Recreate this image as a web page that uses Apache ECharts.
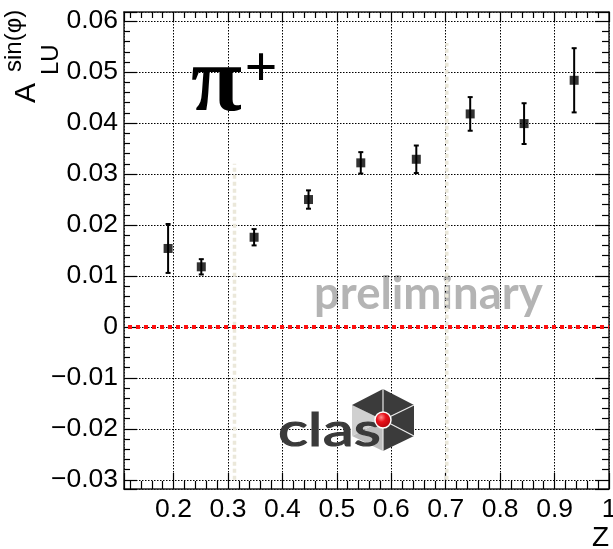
<!DOCTYPE html>
<html>
<head>
<meta charset="utf-8">
<script src="https://cdn.jsdelivr.net/npm/echarts@6/dist/echarts.min.js"></script>
<style>
html,body{margin:0;padding:0;background:#fff;}
#chart{width:613px;height:549px;}
</style>
</head>
<body>
<div id="chart"></div>
<script>
// ---- data ----
const zValues = [0.190, 0.251, 0.348, 0.448, 0.544, 0.646, 0.745, 0.844, 0.936];
const aluValues = [0.0154, 0.0118, 0.0176, 0.0250, 0.0322, 0.0329, 0.0418, 0.0399, 0.0484];
const aluErrors = [0.0048, 0.0015, 0.0016, 0.0018, 0.0021, 0.0027, 0.0033, 0.0040, 0.0063];

const xTickValues = [0.2, 0.3, 0.4, 0.5, 0.6, 0.7, 0.8, 0.9, 1.0];
const xTickLabels = ['0.2', '0.3', '0.4', '0.5', '0.6', '0.7', '0.8', '0.9', '1'];
const yTickValues = [-0.03, -0.02, -0.01, 0, 0.01, 0.02, 0.03, 0.04, 0.05, 0.06];
const yTickLabels = ['\u22120.03', '\u22120.02', '\u22120.01', '0', '0.01', '0.02', '0.03', '0.04', '0.05', '0.06'];

// faint vertical guide lines seen in the picture
const guideX = [0.312, 0.702];
const guideTop = [0.032, 0.0557];
const guideBottom = [-0.03, -0.03];

const xRange = [0.109, 1.0];
const yRange = [-0.0318, 0.0618];

function lookup(vals, labels) {
  return function (v) {
    for (let i = 0; i < vals.length; i++) {
      if (Math.abs(v - vals[i]) < 1e-7) return labels[i];
    }
    return '';
  };
}

const chart = echarts.init(document.getElementById('chart'), null, {renderer: 'canvas'});

const labelFont = {fontFamily: 'Liberation Sans', fontSize: 26.5, color: '#000'};
const gridLine = {color: '#000', width: 1, type: [1.5, 1.5]};

// invisible helper y axes that only carry parts of the y-axis title
function titleAxis(text, offset, gap, size) {
  return {
    type: 'value', position: 'left', offset: offset, min: yRange[0], max: yRange[1],
    axisLine: {show: false}, axisTick: {show: false}, axisLabel: {show: false},
    splitLine: {show: false}, minorTick: {show: false},
    name: text, nameLocation: 'end', nameRotate: 90, nameGap: gap, nameMoveOverlap: false,
    nameTextStyle: {fontFamily: 'Liberation Sans', fontSize: size, color: '#000', align: 'left', verticalAlign: 'middle'}
  };
}

const option = {
  backgroundColor: '#fff',
  animation: false,
  grid: {left: 124, right: 4, top: 12, bottom: 60, containLabel: false, outerBoundsMode: 'none'},
  xAxis: [
    {
      type: 'value', position: 'bottom', min: xRange[0], max: xRange[1], splitNumber: 9,
      axisLine: {show: true, onZero: false, lineStyle: {color: '#222', width: 1.5}},
      axisTick: {show: true, inside: true, length: 16, lineStyle: {color: '#000', width: 1.2}},
      minorTick: {show: true, splitNumber: 5, length: 8, lineStyle: {color: '#000', width: 1.2}},
      axisLabel: Object.assign({margin: 7, formatter: lookup(xTickValues, xTickLabels)}, labelFont),
      splitLine: {show: true, lineStyle: gridLine},
      minorSplitLine: {show: false}
    },
    {
      type: 'value', position: 'top', min: xRange[0], max: xRange[1], splitNumber: 9,
      axisLine: {show: true, onZero: false, lineStyle: {color: '#222', width: 1.5}},
      axisTick: {show: true, inside: true, length: 10, lineStyle: {color: '#000', width: 1.2}},
      minorTick: {show: true, splitNumber: 5, length: 6, lineStyle: {color: '#000', width: 1.2}},
      axisLabel: {show: false},
      splitLine: {show: false}
    }
  ],
  yAxis: [
    {
      type: 'value', position: 'left', min: yRange[0], max: yRange[1], splitNumber: 9,
      axisLine: {show: true, onZero: false, lineStyle: {color: '#222', width: 1.5}},
      axisTick: {show: true, inside: true, length: 13, lineStyle: {color: '#000', width: 1.2}},
      minorTick: {show: true, splitNumber: 5, length: 6, lineStyle: {color: '#000', width: 1.2}},
      axisLabel: Object.assign({margin: 6, formatter: lookup(yTickValues, yTickLabels)}, labelFont),
      splitLine: {show: true, lineStyle: gridLine}
    },
    {
      type: 'value', position: 'right', min: yRange[0], max: yRange[1], splitNumber: 9,
      axisLine: {show: true, onZero: false, lineStyle: {color: '#222', width: 1.5}},
      axisTick: {show: true, inside: true, length: 14, lineStyle: {color: '#000', width: 1.2}},
      minorTick: {show: true, splitNumber: 5, length: 7, lineStyle: {color: '#000', width: 1.2}},
      axisLabel: {show: false},
      splitLine: {show: false}
    },
    titleAxis('A', 97, -91, 30),
    titleAxis('sin(\u03c6)', 110, -60, 24),
    titleAxis('LU', 73, -63, 24)
  ],
  graphic: [
    // preliminary (under grid)
    {type: 'text', z: -10, x: 314, y: 294, style: {text: 'preliminary', fontFamily: 'Lato', fontWeight: 'bold', fontSize: 45.5, fill: '#b4b4b4', align: 'left', verticalAlign: 'middle'}},
    // pi+
    {type: 'text', z: 50, x: 191, y: 86, style: {text: '\u03c0', fontFamily: 'Liberation Serif', fontWeight: 'bold', fontSize: 93, fill: '#000', align: 'left', verticalAlign: 'middle'}},
    {type: 'text', z: 50, x: 261, y: 71, style: {text: '+', fontFamily: 'Liberation Serif', fontWeight: 'bold', fontSize: 58, fill: '#000', align: 'center', verticalAlign: 'middle'}},
    // x title
    {type: 'text', z: 50, x: 609, y: 538, style: {text: 'Z', fontFamily: 'Liberation Sans', fontSize: 28, fill: '#000', align: 'right', verticalAlign: 'middle'}},
    // CLAS logo
    {type: 'polygon', z: 40, shape: {points: [[383, 420], [383, 389], [414, 405]]}, style: {fill: '#3b3b3b'}},
    {type: 'polygon', z: 40, shape: {points: [[383, 420], [414, 405], [414, 436]]}, style: {fill: '#3b3b3b'}},
    {type: 'polygon', z: 40, shape: {points: [[383, 420], [414, 436], [383, 451]]}, style: {fill: '#3b3b3b'}},
    {type: 'polygon', z: 40, shape: {points: [[383, 420], [383, 451], [352, 436]]}, style: {fill: '#bdbdbd'}},
    {type: 'polygon', z: 40, shape: {points: [[383, 420], [352, 436], [352, 405]]}, style: {fill: '#d0d0d0'}},
    {type: 'polygon', z: 40, shape: {points: [[383, 420], [352, 405], [383, 389]]}, style: {fill: '#3b3b3b'}},
    {type: 'polyline', z: 41, shape: {points: [[383, 389], [383, 420], [414, 405]]}, style: {stroke: '#e8e8e8', lineWidth: 1.2, fill: null}},
    {type: 'polyline', z: 41, shape: {points: [[414, 436], [383, 420], [383, 451]]}, style: {stroke: '#e8e8e8', lineWidth: 1.2, fill: null}},
    {type: 'text', z: 42, x: 278, y: 431, scaleX: 1.36, style: {text: 'clas', fontFamily: 'Lato', fontWeight: 'normal', fontSize: 46, fill: '#3a3a3a', stroke: '#3a3a3a', lineWidth: 1.2, align: 'left', verticalAlign: 'middle'}},
    {type: 'circle', z: 43, shape: {cx: 383, cy: 420, r: 8}, style: {fill: {type: 'radial', x: 0.4, y: 0.35, r: 0.75, colorStops: [{offset: 0, color: '#ff9090'}, {offset: 0.35, color: '#e8101a'}, {offset: 1, color: '#a00008'}]}, stroke: '#ffffff', lineWidth: 1.5}}
  ],
  series: [
    {
      type: 'custom', name: 'guides', xAxisIndex: 0, yAxisIndex: 0, z: 1, silent: true,
      data: guideX.map((x, i) => [x, guideBottom[i], guideTop[i]]),
      renderItem: function (params, api) {
        const p0 = api.coord([api.value(0), api.value(1)]);
        const p1 = api.coord([api.value(0), api.value(2)]);
        return {type: 'line', shape: {x1: p0[0], y1: p0[1], x2: p1[0], y2: p1[1]}, style: {stroke: '#ebe8da', lineWidth: 3.5, lineDash: [4, 3]}};
      }
    },
    {
      type: 'scatter', name: 'zero', xAxisIndex: 0, yAxisIndex: 0, data: [], z: 3,
      markLine: {silent: true, symbol: 'none', label: {show: false}, animation: false,
        lineStyle: {color: '#ff1010', width: 4, type: [4, 4], dashOffset: -4},
        data: [{yAxis: 0}]}
    },
    {
      type: 'custom', name: 'errors', xAxisIndex: 0, yAxisIndex: 0, z: 5,
      data: zValues.map((z, i) => [z, aluValues[i], aluErrors[i]]),
      renderItem: function (params, api) {
        const x = api.value(0), y = api.value(1), e = api.value(2);
        const top = api.coord([x, y + e]);
        const bot = api.coord([x, y - e]);
        const cap = 2.5;
        const st = {stroke: '#000', lineWidth: 2};
        return {type: 'group', children: [
          {type: 'line', shape: {x1: top[0], y1: top[1], x2: bot[0], y2: bot[1]}, style: st},
          {type: 'line', shape: {x1: top[0] - cap, y1: top[1], x2: top[0] + cap, y2: top[1]}, style: st},
          {type: 'line', shape: {x1: bot[0] - cap, y1: bot[1], x2: bot[0] + cap, y2: bot[1]}, style: st}
        ]};
      }
    },
    {
      type: 'scatter', name: 'A_LU', xAxisIndex: 0, yAxisIndex: 0, z: 6,
      symbol: 'rect', symbolSize: 9,
      itemStyle: {color: '#000'},
      data: zValues.map((z, i) => [z, aluValues[i]])
    }
  ]
};

chart.setOption(option);
</script>
</body>
</html>
